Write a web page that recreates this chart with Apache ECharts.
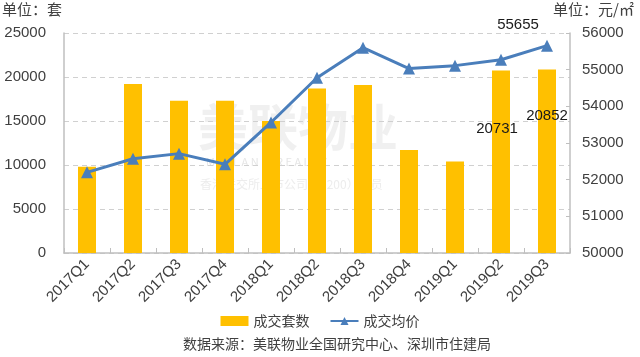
<!DOCTYPE html>
<html><head><meta charset="utf-8">
<script src="https://cdn.jsdelivr.net/npm/echarts@6/dist/echarts.min.js"></script>
<style>html,body{margin:0;padding:0;background:#fff}#c{width:640px;height:357px}</style>
</head><body><div id="c"></div>
<script>
const categories = ['2017Q1','2017Q2','2017Q3','2017Q4','2018Q1','2018Q2','2018Q3','2018Q4','2019Q1','2019Q2','2019Q3'];
const volume = [9800, 19200, 17300, 17300, 15000, 18700, 19100, 11700, 10400, 20731, 20852];
const price = [52200, 52570, 52710, 52420, 53560, 54780, 55600, 55030, 55110, 55270, 55655];
const leftTicks = [0, 25000, 5000];
const rightTicks = [50000, 56000, 1000];
const FONT = '"Noto Sans CJK SC","Noto Sans",sans-serif';
const NUM = '"Liberation Sans","Noto Sans",sans-serif';
const txt = '#404040';
const plain = v => String(v);

const chart = echarts.init(document.getElementById('c'));
chart.setOption({
  animation: false,
  textStyle: {fontFamily: FONT},
  grid: {left: 64, right: 70, top: 33, bottom: 104},
  graphic: [
    {type: 'text', left: 2, top: 2, style: {text: '单位：套', font: '15px ' + FONT, fill: txt}},
    {type: 'text', right: 6, top: 2, style: {text: '单位：元/㎡', font: '15px ' + FONT, fill: txt}},
    {type: 'text', left: 183, top: 337, style: {text: '数据来源：美联物业全国研究中心、深圳市住建局', font: '14px ' + FONT, fill: txt}},
    {type: 'text', left: 198, top: 102, z: 0, style: {text: '美联物业', font: 'bold 50px ' + FONT, fill: 'rgba(185,185,185,0.22)'}},
    {type: 'text', left: 206, top: 156, z: 0, style: {text: 'M I D L A N D   R E A L T Y', font: '11px ' + FONT, fill: 'rgba(170,170,170,0.3)'}},
    {type: 'text', left: 200, top: 178, z: 0, style: {text: '香港联交所上市公司（1200）成员', font: '12px ' + FONT, fill: 'rgba(180,180,180,0.25)'}}
  ],
  legend: {
    bottom: 24, left: 'center', itemGap: 20,
    itemWidth: 28, itemHeight: 10,
    textStyle: {fontSize: 14, color: txt, fontFamily: FONT},
    data: [
      {name: '成交套数', icon: 'rect'},
      {name: '成交均价'}
    ]
  },
  xAxis: {
    type: 'category', data: categories,
    axisLine: {lineStyle: {color: '#bfbfbf', width: 1.5}},
    axisTick: {show: true, inside: true, length: 5, lineStyle: {color: '#bfbfbf'}},
    axisLabel: {rotate: 45, fontSize: 15, color: txt, margin: 9, fontFamily: NUM}
  },
  yAxis: [
    {
      type: 'value', min: leftTicks[0], max: leftTicks[1], interval: leftTicks[2],
      axisLine: {show: true, lineStyle: {color: '#bfbfbf', width: 1.5}},
      axisTick: {show: false},
      splitLine: {lineStyle: {color: '#d0d0d0', type: [5, 4]}},
      axisLabel: {fontSize: 15, color: txt, margin: 18, fontFamily: NUM, formatter: plain}
    },
    {
      type: 'value', min: rightTicks[0], max: rightTicks[1], interval: rightTicks[2],
      axisLine: {show: true, lineStyle: {color: '#bfbfbf', width: 1.5}},
      axisTick: {show: true, inside: true, length: 4, lineStyle: {color: '#bfbfbf'}},
      splitLine: {show: false},
      axisLabel: {fontSize: 15, color: txt, margin: 12, fontFamily: NUM, formatter: plain}
    }
  ],
  series: [
    {
      name: '成交套数', type: 'bar', yAxisIndex: 0, barWidth: 18,
      itemStyle: {color: '#ffc000'},
      data: volume.map((v, i) => {
        if (i === 9) return {value: v, label: {show: true, position: 'insideTop', offset: [-4, 46], fontSize: 15, color: '#1a1a1a', fontFamily: NUM}};
        if (i === 10) return {value: v, label: {show: true, position: 'insideTop', offset: [0, 34], fontSize: 15, color: '#1a1a1a', fontFamily: NUM}};
        return v;
      })
    },
    {
      name: '成交均价', type: 'line', yAxisIndex: 1,
      symbol: 'triangle', symbolSize: 12,
      lineStyle: {color: '#4a7ebb', width: 3},
      itemStyle: {color: '#4a7ebb'},
      data: price.map((v, i) => {
        if (i === 10) return {value: v, label: {show: true, position: 'top', offset: [-29, -2], fontSize: 15, color: '#1a1a1a', fontFamily: NUM}};
        return v;
      })
    }
  ]
});
</script></body></html>
